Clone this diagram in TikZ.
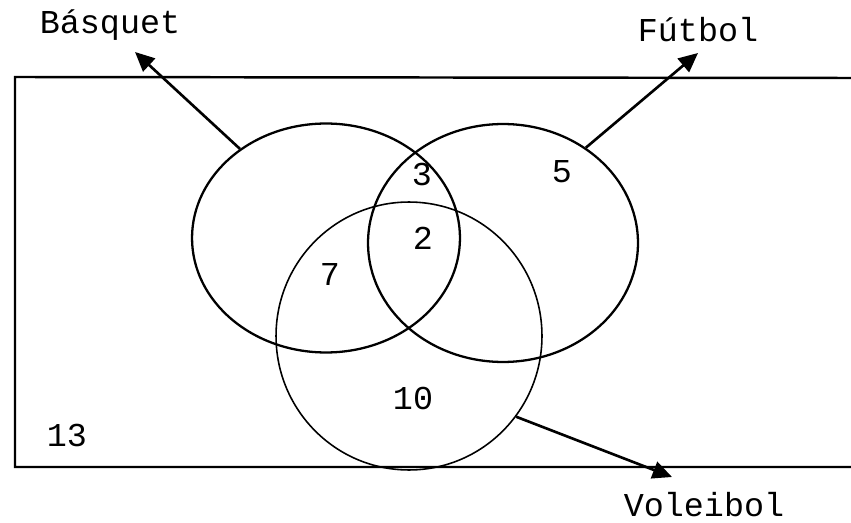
\documentclass[tikz,border=0pt]{standalone}
\usepackage{fontspec}
\setmonofont{Liberation Mono}
\usetikzlibrary{arrows.meta, positioning, shapes.geometric}

\begin{document}
\begin{tikzpicture}[
  x=0.02cm, y=-0.02cm,
  every node/.style={font=\ttfamily\fontsize{19}{21}\selectfont},
  setnode/.style={ellipse, draw=black, line width=1.3pt, inner sep=0pt},
  numnode/.style={inner sep=0pt},
  namenode/.style={inner sep=1pt},
  pointer/.style={-{Triangle[length=11pt, width=10pt]}, line width=1.5pt},
]
\useasboundingbox (0,0) rectangle (851,523);

% universe
\draw[line width=1.4pt] (851,78) -- (15,77) -- (15,467) -- (851,467);

% sets
\node[setnode, minimum width=5.36cm, minimum height=4.58cm] (bas) at (326,238) {};
\node[setnode, minimum width=5.40cm, minimum height=4.76cm] (fut) at (503,243) {};
\node[setnode, line width=0.9pt, minimum width=5.32cm, minimum height=5.36cm] (vol) at (409,336) {};

% region counts
\node[numnode] (n3) at (422,175) {3};
\node[numnode] (n5) at (562,172) {5};
\node[numnode] (n2) at (423,238) {2};
\node[numnode] (n7) at (330,275) {7};
\node[numnode] (n10) at (413,398) {10};
\node[numnode] (n13) at (67,435) {13};

% names
\node[namenode] (lbas) at (110,25) {Básquet};
\node[namenode] (lfut) at (698,30) {Fútbol};
\node[namenode] (lvol) at (704,505) {Voleibol};

\coordinate (tbas) at (135,52);
\coordinate (tfut) at (698,53);
\coordinate (tvol) at (672,477);

\draw[pointer] (bas.134) -- (tbas);
\draw[pointer] (fut.49) -- (tfut);
\draw[pointer] (vol.-37) -- (tvol);

\end{tikzpicture}
\end{document}
